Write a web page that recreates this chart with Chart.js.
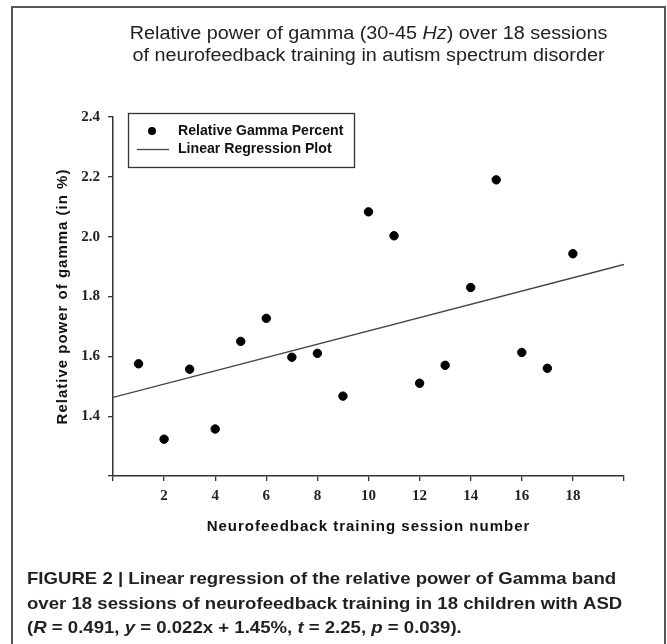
<!DOCTYPE html>
<html>
<head>
<meta charset="utf-8">
<script src="https://cdn.jsdelivr.net/npm/chart.js@4.4.1/dist/chart.umd.min.js"></script>
<style>
  html, body { margin:0; padding:0; background:#fff; }
  #wrap { position:relative; width:667px; height:644px; }
</style>
</head>
<body>
<div id="wrap"><canvas id="c" width="667" height="644"></canvas></div>
<script>
// session numbers and relative gamma power (%)
const sessions = [1,2,3,4,5,6,7,8,9,10,11,12,13,14,15,16,17,18];
const gammaPct = [1.575,1.323,1.557,1.357,1.650,1.727,1.597,1.610,1.467,2.083,2.003,1.510,1.570,1.830,2.190,1.613,1.560,1.943];
// regression line end points, as drawn
const fitX = [0, 20];
const fitY = [1.463, 1.907];

const titleLines = [
  [['Relative power of gamma (30-45 ', ''], ['Hz', 'italic '], [') over 18 sessions', '']],
  [['of neurofeedback training in autism spectrum disorder', '']]
];
const captionLines = [
  [['FIGURE 2 | Linear regression of the relative power of Gamma band', '']],
  [['over 18 sessions of neurofeedback training in 18 children with ASD', '']],
  [['(', ''], ['R', 'italic '], [' = 0.491, ', ''], ['y', 'italic '], [' = 0.022x + 1.45%, ', ''],
   ['t', 'italic '], [' = 2.25, ', ''], ['p', 'italic '], [' = 0.039).', '']]
];
const xTitle = 'Neurofeedback training session number';
const yTitle = 'Relative power of gamma (in %)';

// the source figure is a little stretched sideways, so text gets an x scale
function drawRuns(ctx, runs, base, x, y, align, sx){
  sx = sx || 1;
  let w = 0;
  runs.forEach(r => { ctx.font = r[1] + base; w += ctx.measureText(r[0]).width; });
  ctx.save();
  ctx.translate(x, y);
  ctx.scale(sx, 1);
  let cx = align === 'center' ? -w/2 : 0;
  ctx.textAlign = 'left';
  runs.forEach(r => {
    ctx.font = r[1] + base;
    ctx.fillText(r[0], cx, 0);
    cx += ctx.measureText(r[0]).width;
  });
  ctx.restore();
}

const decorPlugin = {
  id:'decor',
  beforeDraw(chart){
    const {ctx} = chart;
    ctx.save();
    ctx.fillStyle = '#fff';
    ctx.fillRect(0, 0, chart.width, chart.height);
    ctx.restore();
  },
  afterDraw(chart){
    const {ctx, chartArea} = chart;
    const mid = (chartArea.left + chartArea.right) / 2;
    ctx.save();

    // outer frame
    ctx.strokeStyle = '#555';
    ctx.lineWidth = 2;
    ctx.strokeRect(12, 7, 653, 700);

    // title
    ctx.fillStyle = '#222';
    ctx.textBaseline = 'alphabetic';
    drawRuns(ctx, titleLines[0], '18px "Liberation Sans"', mid, 39, 'center', 1.1);
    drawRuns(ctx, titleLines[1], '18px "Liberation Sans"', mid, 61, 'center', 1.1);

    // legend box
    ctx.strokeStyle = '#333';
    ctx.lineWidth = 1.3;
    ctx.strokeRect(128.5, 113.5, 226, 54);
    const ds = chart.data.datasets;
    ctx.fillStyle = ds[0].backgroundColor;
    ctx.beginPath();
    ctx.arc(152, 131, 4, 0, Math.PI*2);
    ctx.fill();
    ctx.strokeStyle = ds[1].borderColor;
    ctx.lineWidth = 1.3;
    ctx.beginPath();
    ctx.moveTo(137, 149.5);
    ctx.lineTo(169, 149.5);
    ctx.stroke();
    ctx.fillStyle = '#111';
    ctx.textBaseline = 'middle';
    drawRuns(ctx, [[ds[0].label, '']], 'bold 15px "Liberation Sans"', 178, 131, 'left', 0.94);
    drawRuns(ctx, [[ds[1].label, '']], 'bold 15px "Liberation Sans"', 178, 149, 'left', 0.94);

    // axis titles
    ctx.fillStyle = '#111';
    ctx.font = 'bold 15px "Liberation Sans"';
    ctx.letterSpacing = '1px';
    ctx.textAlign = 'center';
    ctx.fillText(xTitle, mid, 527);
    ctx.save();
    ctx.translate(63, (chartArea.top + chartArea.bottom) / 2);
    ctx.rotate(-Math.PI/2);
    ctx.fillText(yTitle, 0, 0);
    ctx.restore();
    ctx.letterSpacing = '0px';

    // caption
    ctx.fillStyle = '#231f20';
    ctx.textBaseline = 'alphabetic';
    const capY = [584, 608.5, 633];
    captionLines.forEach((ln, i) => drawRuns(ctx, ln, 'bold 17px "Liberation Sans"', 27, capY[i], 'left', 1.094));

    ctx.restore();
  }
};

const tickFont = { family:'"Liberation Serif"', size:15, weight:'bold' };

new Chart(document.getElementById('c'), {
  type:'scatter',
  data:{
    datasets:[{
      label:'Relative Gamma Percent',
      data:sessions.map((s, i) => ({x:s, y:gammaPct[i]})),
      backgroundColor:'#000',
      borderColor:'#000',
      pointRadius:4.2,
      pointHoverRadius:4.2
    },{
      label:'Linear Regression Plot',
      data:fitX.map((x, i) => ({x, y:fitY[i]})),
      showLine:true,
      borderColor:'#444',
      borderWidth:1.3,
      pointRadius:0,
      backgroundColor:'#444'
    }]
  },
  options:{
    responsive:false,
    animation:false,
    layout:{ padding:{ left:0, top:117, right:43, bottom:0 } },
    plugins:{ legend:{ display:false }, tooltip:{ enabled:false } },
    scales:{
      x:{
        type:'linear', min:0, max:20,
        ticks:{ stepSize:2, color:'#222', font:tickFont, padding:6,
          callback:v => (v === 0 || v === 20) ? '' : String(v) },
        grid:{ drawOnChartArea:false, drawTicks:true, tickLength:5, color:'#333', lineWidth:1.3 },
        border:{ color:'#333', width:1.5 },
        afterFit(s){ s.height = 644 - 476; }
      },
      y:{
        type:'linear', min:1.2, max:2.4,
        ticks:{ stepSize:0.2, color:'#222', font:tickFont, padding:8,
          callback:v => v < 1.3 ? '' : v.toFixed(1) },
        grid:{ drawOnChartArea:false, drawTicks:true, tickLength:5, color:'#333', lineWidth:1.3 },
        border:{ color:'#333', width:1.5 },
        afterFit(s){ s.width = 113; }
      }
    }
  },
  plugins:[decorPlugin]
});
</script>
</body>
</html>
